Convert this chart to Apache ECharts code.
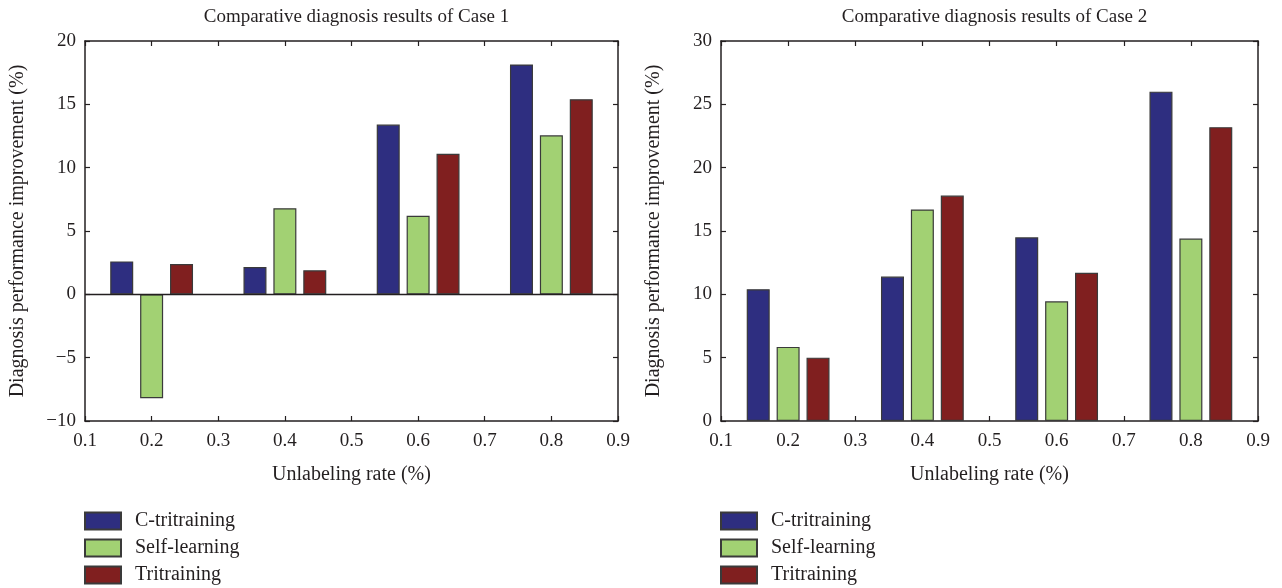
<!DOCTYPE html>
<html>
<head>
<meta charset="utf-8">
<script src="https://cdn.jsdelivr.net/npm/echarts@6/dist/echarts.min.js"></script>
<style>
html,body{margin:0;padding:0;background:#fff;}
#main{width:1282px;height:588px;}
</style>
</head>
<body>
<div id="main"></div>
<script>
// ---- data ----
const seriesNames = ['C-tritraining', 'Self-learning', 'Tritraining'];
const rates = [0.2, 0.4, 0.6, 0.8];
const case1CTri = [2.6, 2.15, 13.4, 18.15];
const case1Self = [-8.2, 6.8, 6.2, 12.55];
const case1Tri = [2.4, 1.9, 11.1, 15.4];
const case2CTri = [10.4, 11.4, 14.5, 26.0];
const case2Self = [5.85, 16.7, 9.45, 14.4];
const case2Tri = [5.0, 17.8, 11.7, 23.2];
const titles = ['Comparative diagnosis results of Case 1', 'Comparative diagnosis results of Case 2'];
const xName = 'Unlabeling rate (%)';
const yName = 'Diagnosis performance improvement (%)';

const colors = ['#2e2e80', '#a2d173', '#801f1f'];
const FONT = '"Liberation Serif", "DejaVu Serif", serif';
const TXT = '#231f20';

const grids = [
  {left: 85, top: 41, width: 533, height: 380},
  {left: 721, top: 41, width: 537, height: 380}
];

function pairs(vals) { return rates.map((r, i) => [r, vals[i]]); }
const fmtNum = v => String(v).replace('-', '\u2212');

const xAxes = [], yAxes = [];
const yRanges = [{min: -10, max: 20}, {min: 0, max: 30}];
grids.forEach((g, gi) => {
  const base = {
    gridIndex: gi, type: 'value', min: 0.1, max: 0.9, interval: 0.1,
    splitLine: {show: false},
    axisLine: {show: true, onZero: false, lineStyle: {color: '#231f20', width: 1.5}},
    axisTick: {show: true, inside: true, length: 5, lineStyle: {color: '#231f20', width: 1.2}}
  };
  xAxes.push(Object.assign({}, base, {
    position: 'bottom',
    name: xName, nameLocation: 'middle', nameGap: 44,
    nameTextStyle: {fontFamily: FONT, fontSize: 20, color: TXT},
    axisLabel: {show: true, margin: 11, fontFamily: FONT, fontSize: 19, color: TXT,
      formatter: v => v.toFixed(1)}
  }));
  xAxes.push(Object.assign({}, base, {position: 'top', axisLabel: {show: false}}));
  const ybase = {
    gridIndex: gi, type: 'value', min: yRanges[gi].min, max: yRanges[gi].max, interval: 5,
    splitLine: {show: false},
    axisLine: {show: true, onZero: false, lineStyle: {color: '#231f20', width: 1.5}},
    axisTick: {show: true, inside: true, length: 5, lineStyle: {color: '#231f20', width: 1.2}}
  };
  yAxes.push(Object.assign({}, ybase, {
    position: 'left',
    name: yName, nameLocation: 'middle', nameGap: 57,
    nameTextStyle: {fontFamily: FONT, fontSize: 20, color: TXT},
    axisLabel: {show: true, margin: 9, fontFamily: FONT, fontSize: 19, color: TXT, formatter: fmtNum}
  }));
  yAxes.push(Object.assign({}, ybase, {position: 'right', axisLabel: {show: false}}));
});

const caseData = [[case1CTri, case1Self, case1Tri], [case2CTri, case2Self, case2Tri]];
const series = [];
caseData.forEach((sets, gi) => {
  sets.forEach((vals, si) => {
    const s = {
      name: seriesNames[si], type: 'bar',
      xAxisIndex: gi * 2, yAxisIndex: gi * 2,
      data: pairs(vals),
      barWidth: 23, barGap: '30%',
      itemStyle: {color: colors[si], borderColor: '#3a3a3a', borderWidth: 1.2},
      emphasis: {disabled: true},
      animation: false
    };
    if (gi === 0 && si === 0) {
      s.markLine = {
        silent: true, symbol: 'none', animation: false,
        label: {show: false},
        lineStyle: {color: '#231f20', width: 1.3, type: 'solid'},
        data: [{yAxis: 0}]
      };
    }
    series.push(s);
  });
});

// one legend component per entry so the stack never wraps
const legends = [];
grids.forEach(g => {
  seriesNames.forEach((name, i) => {
    legends.push({
      orient: 'vertical', left: g.left - 1, top: 511 + i * 27, padding: 0,
      icon: 'rect',
      itemWidth: 36, itemHeight: 17,
      data: [name],
      selectedMode: false,
      textStyle: {fontFamily: FONT, fontSize: 20, color: TXT, padding: [0, 0, 0, 9]}
    });
  });
});

const titleComps = grids.map((g, gi) => ({
  text: titles[gi], left: g.left + g.width / 2, top: 3, textAlign: 'center',
  textStyle: {fontFamily: FONT, fontSize: 19, fontWeight: 'normal', color: TXT}
}));

const chart = echarts.init(document.getElementById('main'), null, {renderer: 'canvas'});
chart.setOption({
  animation: false,
  backgroundColor: '#fff',
  title: titleComps,
  legend: legends,
  grid: grids,
  xAxis: xAxes,
  yAxis: yAxes,
  series: series
});
</script>
</body>
</html>
